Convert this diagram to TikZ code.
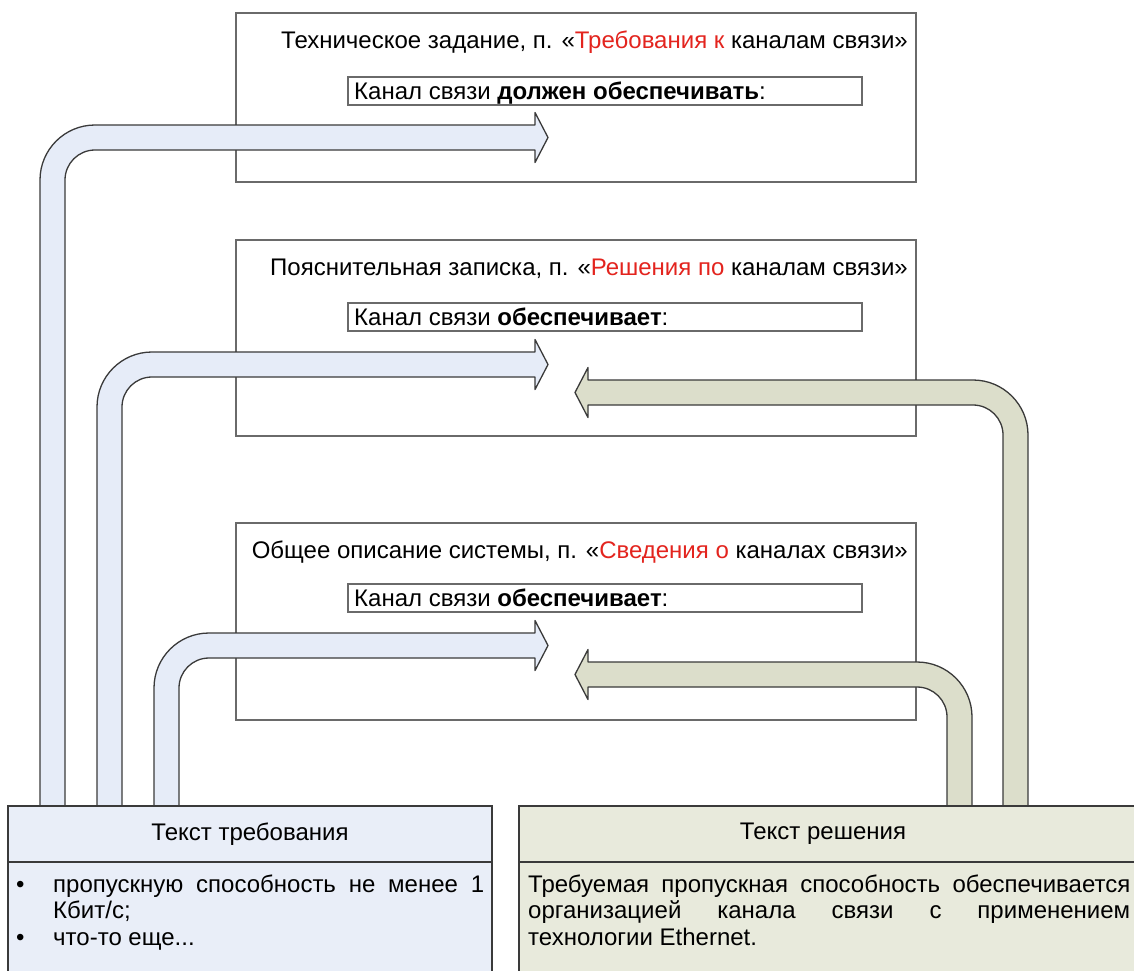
\documentclass[tikz,border=0pt]{standalone}
\usepackage{fontspec}
\setmainfont{Liberation Sans}
\definecolor{framegray}{HTML}{6A6A6A}
\definecolor{edgegray}{HTML}{3A3A3A}
\definecolor{bluefill}{HTML}{E6ECF8}
\definecolor{blueboxfill}{HTML}{E9EEF8}
\definecolor{greenfill}{HTML}{DCDECB}
\definecolor{greenboxfill}{HTML}{E8EADC}
\definecolor{accent}{HTML}{E3241E}
\newcommand{\labelfont}{\fontsize{24}{26.3}\selectfont}
% riser turning right: left edge x, top of the horizontal shaft y, tip x
\newcommand{\riserright}[3]{%
  \draw[blueflow] (#1,806) -- (#1,#2+55) arc[start angle=180,end angle=270,radius=55]
    -- (#3-13,#2) -- (#3-13,#2-12.5) -- (#3,#2+12.5) -- (#3-13,#2+37.5) -- (#3-13,#2+25)
    -- (#1+55,#2+25) arc[start angle=270,end angle=180,radius=30] -- (#1+25,806) -- cycle;}
% riser turning left: left edge x, top of the horizontal shaft y, tip x
\newcommand{\riserleft}[3]{%
  \draw[greenflow] (#1+25,806) -- (#1+25,#2+55) arc[start angle=0,end angle=-90,radius=55]
    -- (#3+13,#2) -- (#3+13,#2-12.5) -- (#3,#2+12.5) -- (#3+13,#2+37.5) -- (#3+13,#2+25)
    -- (#1-30,#2+25) arc[start angle=-90,end angle=0,radius=30] -- (#1,806) -- cycle;}
\begin{document}
\begin{tikzpicture}[x=1pt,y=-1pt,
  docframe/.style={draw=framegray, line width=1.8pt, fill=white, inner sep=0pt, outer sep=0pt,
    anchor=north west, minimum width=680pt},
  slot/.style={draw=framegray, line width=1.5pt, fill=white, inner sep=0pt, outer sep=0pt,
    anchor=north west, minimum width=514pt, minimum height=28pt},
  heading/.style={font=\labelfont, inner sep=0pt, anchor=base east},
  slottext/.style={font=\labelfont, inner sep=0pt, anchor=base west},
  blueflow/.style={fill=bluefill, draw=edgegray, line width=1.3pt, line join=round},
  greenflow/.style={fill=greenfill, draw=edgegray, line width=1.3pt, line join=round},
  panelhead/.style={draw=edgegray, line width=1.5pt, inner sep=0pt, outer sep=0pt,
    anchor=north west, minimum height=56pt},
  panelbody/.style={draw=edgegray, line width=1.5pt, inner sep=0pt, outer sep=0pt,
    anchor=north west, minimum height=120pt},
  plain/.style={font=\labelfont, inner sep=0pt}]
\useasboundingbox (0,0) rectangle (1134,970);
\clip (0,0) rectangle (1134,970);

% document section frames
\node[docframe, minimum height=169pt] (tz) at (236,13) {};
\node[docframe, minimum height=196pt] (pz) at (236,240) {};
\node[docframe, minimum height=197pt] (oo) at (236,523) {};

\node[heading] (tzT) at (908,48) {Техническое задание, п. «\textcolor{accent}{Требования к} каналам связи»};
\node[heading] (pzT) at (908,275) {Пояснительная записка, п. «\textcolor{accent}{Решения по} каналам связи»};
\node[heading] (ooT) at (908,558) {Общее описание системы, п. «\textcolor{accent}{Сведения о} каналах связи»};

\node[slot] (tzS) at (348,77) {};
\node[slot] (pzS) at (348,303) {};
\node[slot] (ooS) at (348,584) {};
\node[slottext] (tzST) at (354,99) {Канал связи \textbf{должен обеспечивать}:};
\node[slottext] (pzST) at (354,325) {Канал связи \textbf{обеспечивает}:};
\node[slottext] (ooST) at (354,606) {Канал связи \textbf{обеспечивает}:};

% risers from the requirement panel
\riserright{40}{125}{548}
\riserright{97}{352}{548}
\riserright{154}{633}{548}
% risers from the solution panel
\riserleft{1003}{380}{575}
\riserleft{947}{662}{575}

% requirement panel
\node[panelhead, fill=blueboxfill, minimum width=484pt] (reqH) at (8,806) {};
\node[panelbody, fill=blueboxfill, minimum width=484pt] (reqB) at (8,862) {};
\node[plain] (reqHT) at (250,834) {Текст требования};
\node[plain, anchor=north west] (reqBT) at (16,874) {%
  \begin{tabular}{@{}p{37pt}@{}l@{}}
  \textbullet & \makebox[431pt][s]{пропускную способность не менее 1}\\
   & Кбит/с;\\
  \textbullet & что-то еще...
  \end{tabular}};

% solution panel
\node[panelhead, fill=greenboxfill, minimum width=625pt] (solH) at (519,806) {};
\node[panelbody, fill=greenboxfill, minimum width=625pt] (solB) at (519,862) {};
\node[plain] (solHT) at (823,834) {Текст решения};
\node[plain, anchor=north west] (solBT) at (528,874) {%
  \begin{tabular}{@{}l@{}}
  \makebox[602pt][s]{Требуемая пропускная способность обеспечивается}\\
  \makebox[602pt][s]{организацией канала связи с применением}\\
  технологии Ethernet.
  \end{tabular}};
\end{tikzpicture}
\end{document}
